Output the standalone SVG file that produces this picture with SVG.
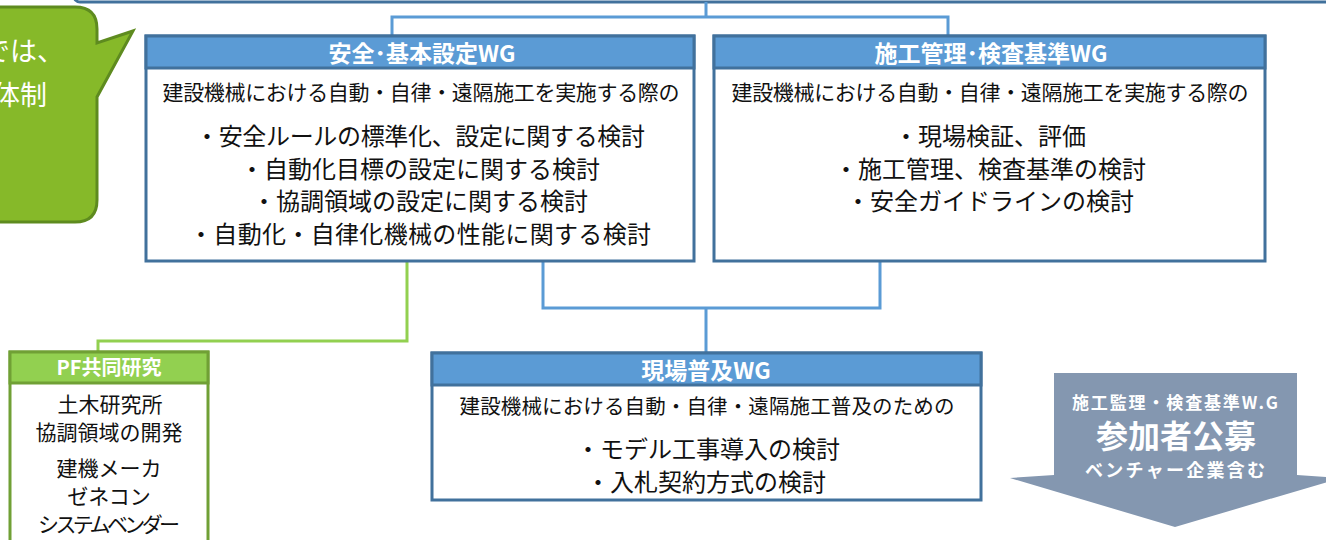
<svg xmlns="http://www.w3.org/2000/svg" width="1326" height="540" viewBox="0 0 1326 540">
<style>
.jp{font-family:"Noto Sans CJK JP","Noto Sans",sans-serif}
.hdr{font-family:"Noto Sans CJK JP","Noto Sans",sans-serif;font-weight:bold;fill:#fff;text-anchor:middle}
.body{font-family:"Noto Sans CJK JP","Noto Sans",sans-serif;fill:#111;text-anchor:middle}
.box{fill:#fff;stroke:#41719c;stroke-width:3}
.bar{fill:#5b9bd5;stroke:#41719c;stroke-width:3}
.con{fill:none;stroke:#5b9bd5;stroke-width:3}
.gcon{fill:none;stroke:#92d050;stroke-width:3}
</style>
<rect width="1326" height="540" fill="#fff"/>
<g id="top-box"><rect x="74" y="-40" width="1290" height="42" rx="6" class="box"/></g>
<g id="callout">
<path d="M -20 7 H 75 Q 97 7 97 29 V 43 L 133 31 L 97 97 V 200 Q 97 222 75 222 H -20 Z" fill="#86b929" stroke="#5e8b1f" stroke-width="3"/>
<text x="64" y="61" class="jp" font-size="27" fill="#fff" text-anchor="end">では、</text>
<text x="47" y="105" class="jp" font-size="27" fill="#fff" text-anchor="end">体制</text>
</g>
<g id="connectors">
<path class="con" d="M706 2 V17 M392 36 V17 H948 V36"/>
<path class="con" d="M543 261 V308 H880 V261 M706 308 V352"/>
<path class="gcon" d="M407 261 V341 H98 V352"/>
</g>
<g id="wg-safety">
<rect x="146" y="36" width="548" height="225" class="box"/>
<rect x="146" y="36" width="548" height="32" class="bar"/>
<text x="422" y="62" class="hdr" font-size="23">安全･基本設定WG</text>
<text x="421" y="100" class="body" font-size="21" textLength="517" lengthAdjust="spacing">建設機械における自動・自律・遠隔施工を実施する際の</text>
<text x="420" y="145" class="body" font-size="24" textLength="450" lengthAdjust="spacing">・安全ルールの標準化、設定に関する検討</text>
<text x="420" y="178" class="body" font-size="24">・自動化目標の設定に関する検討</text>
<text x="420" y="210" class="body" font-size="24">・協調領域の設定に関する検討</text>
<text x="420" y="243" class="body" font-size="24" textLength="462" lengthAdjust="spacing">・自動化・自律化機械の性能に関する検討</text>
</g>
<g id="wg-construction">
<rect x="714" y="36" width="551" height="225" class="box"/>
<rect x="714" y="36" width="551" height="32" class="bar"/>
<text x="991" y="62" class="hdr" font-size="23">施工管理･検査基準WG</text>
<text x="990" y="100" class="body" font-size="21" textLength="517" lengthAdjust="spacing">建設機械における自動・自律・遠隔施工を実施する際の</text>
<text x="990" y="145" class="body" font-size="24">・現場検証、評価</text>
<text x="990" y="178" class="body" font-size="24">・施工管理、検査基準の検討</text>
<text x="990" y="210" class="body" font-size="24">・安全ガイドラインの検討</text>
</g>
<g id="wg-field">
<rect x="432" y="353" width="549" height="147" class="box"/>
<rect x="432" y="353" width="549" height="32" class="bar"/>
<text x="706" y="379" class="hdr" font-size="23">現場普及WG</text>
<text x="707" y="414" class="body" font-size="20.5" textLength="495" lengthAdjust="spacing">建設機械における自動・自律・遠隔施工普及のための</text>
<text x="708" y="458" class="body" font-size="24">・モデル工事導入の検討</text>
<text x="706" y="491" class="body" font-size="24">・入札契約方式の検討</text>
</g>
<g id="pf">
<rect x="10" y="352" width="198" height="210" fill="#fff" stroke="#70a035" stroke-width="3"/>
<rect x="10" y="352" width="198" height="31" fill="#92d050" stroke="#70a035" stroke-width="3"/>
<text x="109" y="375" class="hdr" font-size="20">PF共同研究</text>
<text x="110" y="412" class="body" font-size="21">土木研究所</text>
<text x="109" y="440" class="body" font-size="21">協調領域の開発</text>
<text x="109" y="476" class="body" font-size="21">建機メーカ</text>
<text x="109" y="504" class="body" font-size="21">ゼネコン</text>
<text x="109" y="532" class="body" font-size="21" textLength="142" lengthAdjust="spacing">システムベンダー</text>
</g>
<g id="recruit">
<path d="M1054 373 H1297 V475 L1341 478 L1175 527 L1010 478 L1054 475 Z" fill="#8497b0"/>
<text x="1175" y="409" class="hdr" font-size="17" textLength="206" lengthAdjust="spacing">施工監理・検査基準W.G</text>
<text x="1176" y="448" class="hdr" font-size="32">参加者公募</text>
<text x="1175" y="477" class="hdr" font-size="18" textLength="180" lengthAdjust="spacing">ベンチャー企業含む</text>
</g>
</svg>
